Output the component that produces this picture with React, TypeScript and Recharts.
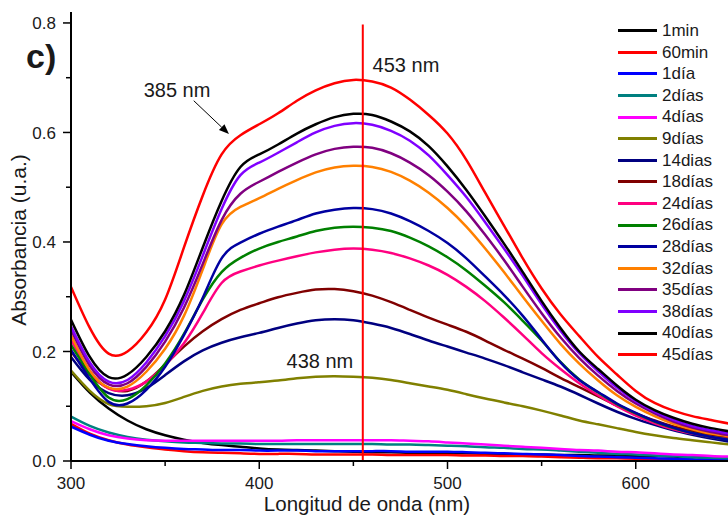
import { LineChart, Line, XAxis, YAxis, ReferenceLine, ReferenceDot } from "recharts";

// wavelength grid (nm)
const wavelengths = [
  300, 310, 320, 330, 340, 350, 360, 370, 380, 390, 400, 410, 420, 430, 440, 450, 460, 470,
  480, 490, 500, 510, 520, 530, 540, 550, 560, 570, 580, 590, 600, 610, 620, 630, 640, 650,
];

const abs1min = [
  0.163, 0.125, 0.096, 0.074, 0.058, 0.047, 0.039, 0.033, 0.029, 0.026, 0.023, 0.021, 0.02, 0.019, 0.018, 0.017, 0.016, 0.016,
  0.015, 0.015, 0.014, 0.014, 0.013, 0.013, 0.012, 0.012, 0.011, 0.011, 0.01, 0.01, 0.009, 0.009, 0.008, 0.008, 0.007, 0.007,
];
const abs60min = [
  0.068, 0.05, 0.038, 0.03, 0.025, 0.021, 0.018, 0.016, 0.015, 0.014, 0.013, 0.013, 0.013, 0.012, 0.012, 0.012, 0.012, 0.011,
  0.011, 0.011, 0.011, 0.01, 0.01, 0.009, 0.009, 0.008, 0.007, 0.006, 0.005, 0.005, 0.004, 0.003, 0.003, 0.002, 0.002, 0.001,
];
const abs1dia = [
  0.063, 0.048, 0.037, 0.031, 0.027, 0.024, 0.022, 0.021, 0.02, 0.02, 0.019, 0.019, 0.019, 0.018, 0.018, 0.018, 0.018, 0.018,
  0.017, 0.017, 0.017, 0.016, 0.015, 0.014, 0.013, 0.012, 0.011, 0.009, 0.008, 0.007, 0.006, 0.005, 0.004, 0.003, 0.003, 0.002,
];
const abs2dias = [
  0.081, 0.064, 0.052, 0.044, 0.039, 0.036, 0.034, 0.033, 0.032, 0.032, 0.031, 0.031, 0.031, 0.031, 0.031, 0.031, 0.031, 0.03,
  0.03, 0.029, 0.028, 0.027, 0.025, 0.024, 0.022, 0.021, 0.019, 0.017, 0.015, 0.013, 0.012, 0.01, 0.009, 0.007, 0.006, 0.005,
];
const abs4dias = [
  0.073, 0.058, 0.047, 0.041, 0.038, 0.037, 0.037, 0.037, 0.037, 0.037, 0.037, 0.037, 0.038, 0.038, 0.038, 0.038, 0.038, 0.038,
  0.037, 0.036, 0.034, 0.032, 0.03, 0.028, 0.026, 0.024, 0.022, 0.02, 0.019, 0.017, 0.016, 0.014, 0.012, 0.011, 0.009, 0.008,
];
const abs9dias = [
  0.165, 0.128, 0.104, 0.099, 0.1, 0.106, 0.117, 0.128, 0.136, 0.141, 0.144, 0.147, 0.151, 0.154, 0.155, 0.154, 0.152, 0.148,
  0.142, 0.136, 0.13, 0.122, 0.114, 0.107, 0.1, 0.092, 0.083, 0.074, 0.067, 0.06, 0.053, 0.047, 0.042, 0.038, 0.034, 0.03,
];
const abs14dias = [
  0.19, 0.148, 0.124, 0.12, 0.133, 0.157, 0.182, 0.202, 0.216, 0.226, 0.234, 0.243, 0.251, 0.257, 0.259, 0.257, 0.251, 0.243,
  0.232, 0.22, 0.209, 0.198, 0.187, 0.175, 0.162, 0.149, 0.136, 0.121, 0.105, 0.09, 0.077, 0.066, 0.056, 0.048, 0.041, 0.035,
];
const abs18dias = [
  0.2, 0.158, 0.133, 0.128, 0.145, 0.176, 0.209, 0.237, 0.259, 0.276, 0.288, 0.299, 0.307, 0.313, 0.314, 0.31, 0.302, 0.29,
  0.276, 0.262, 0.249, 0.236, 0.22, 0.203, 0.187, 0.17, 0.152, 0.135, 0.118, 0.101, 0.087, 0.074, 0.063, 0.055, 0.048, 0.043,
];
const abs24dias = [
  0.221, 0.165, 0.132, 0.13, 0.145, 0.175, 0.215, 0.27, 0.325, 0.346, 0.357, 0.366, 0.374, 0.381, 0.386, 0.388, 0.386, 0.38,
  0.37, 0.357, 0.34, 0.318, 0.292, 0.262, 0.23, 0.197, 0.168, 0.142, 0.12, 0.1, 0.083, 0.069, 0.058, 0.05, 0.044, 0.04,
];
const abs26dias = [
  0.212, 0.158, 0.116, 0.113, 0.138, 0.178, 0.232, 0.295, 0.345, 0.371, 0.388, 0.4, 0.41, 0.42, 0.426, 0.428, 0.426, 0.42,
  0.408, 0.392, 0.372, 0.348, 0.32, 0.29, 0.256, 0.22, 0.181, 0.149, 0.125, 0.104, 0.087, 0.072, 0.06, 0.051, 0.044, 0.039,
];
const abs28dias = [
  0.203, 0.15, 0.108, 0.105, 0.13, 0.172, 0.23, 0.298, 0.37, 0.399, 0.415, 0.428, 0.44, 0.452, 0.459, 0.462, 0.46, 0.452,
  0.438, 0.42, 0.398, 0.37, 0.337, 0.303, 0.265, 0.222, 0.18, 0.148, 0.126, 0.105, 0.088, 0.073, 0.061, 0.051, 0.044, 0.038,
];
const abs32dias = [
  0.23, 0.165, 0.134, 0.136, 0.163, 0.205, 0.265, 0.35, 0.432, 0.464, 0.48, 0.497, 0.513, 0.527, 0.536, 0.539, 0.537, 0.528,
  0.512, 0.49, 0.462, 0.428, 0.388, 0.345, 0.3, 0.256, 0.214, 0.178, 0.147, 0.12, 0.099, 0.082, 0.068, 0.058, 0.05, 0.045,
];
const abs35dias = [
  0.24, 0.174, 0.14, 0.142, 0.172, 0.218, 0.28, 0.36, 0.44, 0.488, 0.51, 0.528, 0.545, 0.56, 0.57, 0.574, 0.572, 0.562,
  0.545, 0.522, 0.492, 0.456, 0.413, 0.367, 0.318, 0.27, 0.226, 0.188, 0.156, 0.128, 0.105, 0.087, 0.072, 0.061, 0.053, 0.047,
];
const abs38dias = [
  0.246, 0.18, 0.145, 0.148, 0.18, 0.228, 0.292, 0.375, 0.46, 0.522, 0.545, 0.563, 0.582, 0.6, 0.612, 0.617, 0.614, 0.603,
  0.585, 0.558, 0.522, 0.482, 0.436, 0.388, 0.338, 0.286, 0.238, 0.197, 0.164, 0.134, 0.109, 0.09, 0.075, 0.064, 0.056, 0.05,
];
const abs40dias = [
  0.258, 0.19, 0.153, 0.158, 0.19, 0.237, 0.303, 0.39, 0.475, 0.537, 0.56, 0.578, 0.598, 0.615, 0.628, 0.634, 0.632, 0.62,
  0.602, 0.575, 0.538, 0.495, 0.447, 0.397, 0.345, 0.292, 0.243, 0.2, 0.168, 0.138, 0.112, 0.093, 0.079, 0.068, 0.06, 0.054,
];
const abs45dias = [
  0.318, 0.243, 0.196, 0.2, 0.235, 0.295, 0.39, 0.485, 0.56, 0.595, 0.615, 0.635, 0.658, 0.677, 0.69, 0.696, 0.693, 0.682,
  0.66, 0.632, 0.598, 0.55, 0.49, 0.43, 0.37, 0.315, 0.268, 0.228, 0.19, 0.158, 0.128, 0.106, 0.092, 0.082, 0.075, 0.068,
];

const series = [
  { key: "m1", name: "1min", color: "#000000", values: abs1min },
  { key: "m60", name: "60min", color: "#ff0000", values: abs60min },
  { key: "d1", name: "1día", color: "#0000ff", values: abs1dia },
  { key: "d2", name: "2días", color: "#008080", values: abs2dias },
  { key: "d4", name: "4días", color: "#ff00ff", values: abs4dias },
  { key: "d9", name: "9días", color: "#808000", values: abs9dias },
  { key: "d14", name: "14dias", color: "#000080", values: abs14dias },
  { key: "d18", name: "18días", color: "#800000", values: abs18dias },
  { key: "d24", name: "24días", color: "#ff0080", values: abs24dias },
  { key: "d26", name: "26días", color: "#008000", values: abs26dias },
  { key: "d28", name: "28días", color: "#0000a0", values: abs28dias },
  { key: "d32", name: "32días", color: "#ff8000", values: abs32dias },
  { key: "d35", name: "35días", color: "#800080", values: abs35dias },
  { key: "d38", name: "38días", color: "#8000ff", values: abs38dias },
  { key: "d40", name: "40días", color: "#000000", values: abs40dias },
  { key: "d45", name: "45días", color: "#ff0000", values: abs45dias },
];

const xTicks = [300, 350, 400, 450, 500, 550, 600];
const yTicks = [0, 0.1, 0.2, 0.3, 0.4, 0.5, 0.6, 0.7, 0.8];

const FONT = "Arial, 'Liberation Sans', sans-serif";
const INK = "#1a1a1a";

const data = wavelengths.map((w, i) => {
  const row: Record<string, number> = { w };
  for (const s of series) row[s.key] = s.values[i];
  return row;
});

function XTick(props: any) {
  const { x, y, payload } = props;
  const major = payload.value % 100 === 0;
  return (
    <g>
      <line x1={x} y1={y} x2={x} y2={y + (major ? 8 : 5)} stroke="#000" strokeWidth={1.5} />
      {major && (
        <text x={x} y={y + 28} textAnchor="middle" fontSize={17} fontFamily={FONT} fill={INK}>
          {payload.value}
        </text>
      )}
    </g>
  );
}

function YTick(props: any) {
  const { x, y, payload } = props;
  const major = Math.round(payload.value * 10) % 2 === 0;
  return (
    <g>
      <line x1={x} y1={y} x2={x - (major ? 8 : 5)} y2={y} stroke="#000" strokeWidth={1.5} />
      {major && (
        <text x={x - 15} y={y} dy="0.36em" textAnchor="end" fontSize={17} fontFamily={FONT} fill={INK}>
          {payload.value.toFixed(1)}
        </text>
      )}
    </g>
  );
}

function noteAt(label: string) {
  return (p: any) => (
    <text x={p.cx} y={p.cy} fontSize={20} fontFamily={FONT} fill={INK}>
      {label}
    </text>
  );
}

function Arrow(p: any) {
  const { x1, y1, x2, y2 } = p;
  const ang = Math.atan2(y2 - y1, x2 - x1);
  const len = 10;
  const w = 4;
  const bx = x2 - len * Math.cos(ang);
  const by = y2 - len * Math.sin(ang);
  const px = -Math.sin(ang) * w;
  const py = Math.cos(ang) * w;
  return (
    <g>
      <line x1={x1} y1={y1} x2={bx} y2={by} stroke="#000" strokeWidth={1} />
      <polygon points={`${x2},${y2} ${bx + px},${by + py} ${bx - px},${by - py}`} fill="#000" />
    </g>
  );
}

export default function App() {
  return (
    <div
      style={{
        position: "absolute",
        left: 0,
        top: 0,
        width: 728,
        height: 516,
        background: "#fff",
        overflow: "hidden",
        fontFamily: FONT,
      }}
    >
      <LineChart width={728} height={516} data={data} margin={{ top: 12, right: 0, bottom: 0, left: 0 }}>
        <XAxis
          dataKey="w"
          type="number"
          domain={[300, 649]}
          allowDataOverflow
          ticks={xTicks}
          interval={0}
          height={55}
          tickSize={0}
          tickMargin={0}
          tickLine={false}
          tick={<XTick />}
          axisLine={{ stroke: "#000", strokeWidth: 2 }}
        />
        <YAxis
          type="number"
          domain={[0, 0.82]}
          allowDataOverflow
          ticks={yTicks}
          interval={0}
          width={71}
          tickSize={0}
          tickMargin={0}
          tickLine={false}
          tick={<YTick />}
          axisLine={{ stroke: "#000", strokeWidth: 2 }}
        />
        {series.map((s) => (
          <Line
            key={s.key}
            dataKey={s.key}
            name={s.name}
            type="natural"
            stroke={s.color}
            strokeWidth={2.5}
            dot={false}
            activeDot={false}
            isAnimationActive={false}
          />
        ))}
        <ReferenceLine
          segment={[
            { x: 455, y: 0 },
            { x: 455, y: 0.797 },
          ]}
          stroke="#ff0000"
          strokeWidth={2}
        />
        <ReferenceLine
          segment={[
            { x: 365.2, y: 0.658 },
            { x: 383.9, y: 0.597 },
          ]}
          shape={Arrow}
        />
        <ReferenceDot x={460.2} y={0.711} r={0} shape={noteAt("453 nm")} />
        <ReferenceDot x={338.6} y={0.665} r={0} shape={noteAt("385 nm")} />
        <ReferenceDot x={414.5} y={0.17} r={0} shape={noteAt("438 nm")} />
      </LineChart>

      <svg width={728} height={516} style={{ position: "absolute", left: 0, top: 0, pointerEvents: "none" }}>
        <text x={26} y={68} fontSize={34} fontWeight="bold" fontFamily={FONT} fill={INK}>
          c)
        </text>
        <text
          x={18}
          y={240}
          transform="rotate(-90 18 240)"
          dy="0.36em"
          textAnchor="middle"
          fontSize={21}
          fontFamily={FONT}
          fill={INK}
        >
          Absorbancia (u.a.)
        </text>
        <text x={367} y={511} textAnchor="middle" fontSize={20.5} fontFamily={FONT} fill={INK}>
          Longitud de onda (nm)
        </text>
      </svg>

      <div style={{ position: "absolute", left: 618, top: 20 }}>
        {series.map((s) => (
          <div key={s.key} style={{ display: "flex", alignItems: "center", height: 21.6 }}>
            <div style={{ width: 39, height: 3, background: s.color }} />
            <span style={{ marginLeft: 5, fontSize: 17, color: INK, lineHeight: "21.6px" }}>{s.name}</span>
          </div>
        ))}
      </div>
    </div>
  );
}
